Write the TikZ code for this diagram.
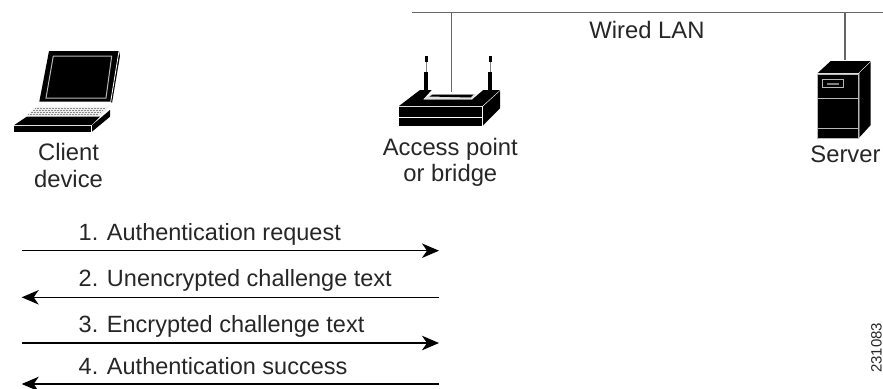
\documentclass[tikz,border=0pt]{standalone}
\usepackage{fontspec}
\setmainfont{Liberation Sans}
\usetikzlibrary{arrows.meta}
\definecolor{txt}{gray}{0.15}
\definecolor{wire}{gray}{0.4}
\definecolor{edge}{gray}{0.72}
\tikzset{
  lbl/.style={font=\fontsize{23.8}{30}\selectfont,text=txt,inner sep=0pt,anchor=base},
  msg/.style={font=\fontsize{23.5}{30}\selectfont,text=txt,inner sep=0pt,anchor=base west},
  flow/.style={draw=black,line width=1.2pt,-{Stealth[length=17pt,width=14.5pt,inset=5pt]}},
  lan/.style={draw=wire,line width=1.2pt},
  gap/.style={draw=edge,line width=1pt}
}
\begin{document}
\begin{tikzpicture}[x=1pt,y=-1pt]
\useasboundingbox (0,0) rectangle (883,388);
% LAN
\coordinate (lanL) at (412,12.7);
\coordinate (lanR) at (883,12.7);
\coordinate (lanA) at (451.3,12.7);
\coordinate (lanS) at (845,12.7);
\coordinate (apTop) at (451.3,91.7);
\coordinate (srvTop) at (845,60);
\draw[lan] (lanL) -- (lanR);
\draw[lan] (lanA) -- (apTop);
\draw[lan] (lanS) -- (srvTop);
\node[lbl] (wired) at (647,38) {Wired LAN};
% Laptop
\fill (49,51) -- (119,51) -- (110.7,101.7) -- (39.3,101.7) -- cycle;
\fill (119,51) -- (120,56) -- (112,103) -- (110.7,101.7) -- cycle;
\draw[gap] (53.3,56) -- (111.7,56) -- (106,98) -- (46,98) -- cycle;
\draw[white,line width=.8pt] (119,51) -- (110.7,101.7);
\fill[black!6] (36,106.7) -- (109.3,106.7) -- (100,116.7) -- (26,115.7) -- cycle;
\foreach \i in {0,...,3}
  \draw[black!45,line width=.5pt,densely dotted] ({35-\i*2.2},{108+\i*2.2}) -- ({105-\i*2.2},{108+\i*2.2});
\fill (26.7,116.7) -- (100,116.7) -- (91.7,125) -- (14.3,125) -- cycle;
\fill (14.3,125.8) -- (91.2,125.8) -- (91.2,132) -- (14.3,132) -- cycle;
\fill (92.2,125) -- (110,110) -- (110,116.7) -- (92.2,131.5) -- cycle;
% Access point
\fill (425,55.7) rectangle (427.5,62.3);
\fill[gray] (425.7,62.3) rectangle (426.7,71.7);
\fill (424.3,71.7) rectangle (428,89.5);
\fill (489,55.7) rectangle (491.5,62.3);
\fill[gray] (489.7,62.3) rectangle (490.7,71.7);
\fill (488.3,71.7) rectangle (492,89.5);
\fill (420,90) -- (431.7,90) -- (423.3,99.3) -- (472.3,99.3) -- (483.3,90) -- (500,90) -- (482.3,106) -- (399,106) -- cycle;
\fill[white!88!black] (423.3,99.3) -- (431,94) -- (475.7,94) -- (472.3,99.3) -- cycle;
\fill (429.5,96.5) -- (433,94.5) -- (473.5,94.5) -- (470.5,97.5) -- cycle;
\fill (399,106.6) rectangle (482,116.8);
\fill (399,117.8) rectangle (482,126);
\fill (483,106.5) -- (500,91) -- (500,108.3) -- (483,125.5) -- cycle;
% Server
\fill (817.7,73) -- (830.7,61) -- (870.7,61) -- (858.3,73) -- cycle;
\fill (817.7,74) rectangle (858.3,138.3);
\fill (859.3,73) -- (870.7,62) -- (870.7,125) -- (859.3,137.5) -- cycle;
\draw[gap] (817.7,74) -- (858.3,74) -- (858.3,138.3) -- (817.7,138.3) -- cycle;
\draw[gap] (817.7,98.3) -- (858.3,98.3);
\draw[gap] (817.7,128.3) -- (858.3,128.3);
\draw[draw=edge,line width=.9pt] (822.3,79) rectangle (843.3,87.7);
\fill[gray] (826.5,82.7) rectangle (839.3,84.5);
% Labels
\node[lbl] (client) at (68.5,160) {Client};
\node[lbl] (clientb) at (68.5,187.3) {device};
\node[lbl] (ap) at (450.3,155.7) {Access point};
\node[lbl] (apb) at (450.3,181.7) {or bridge};
\node[lbl] (server) at (845.5,162) {Server};
% Messages
\coordinate (l1) at (21.7,250.7); \coordinate (r1) at (439,250.7);
\coordinate (l2) at (21.7,297.3); \coordinate (r2) at (439,297.3);
\coordinate (l3) at (21.7,343);   \coordinate (r3) at (439,343);
\coordinate (l4) at (21.7,384);   \coordinate (r4) at (439,384);
\draw[flow] (l1) -- (r1);
\draw[flow] (r2) -- (l2);
\draw[flow] (l3) -- (r3);
\draw[flow] (r4) -- (l4);
\node[msg] (m1) at (78.5,240.7) {1. Authentication request};
\node[msg] (m2) at (78.5,286.7) {2. Unencrypted challenge text};
\node[msg] (m3) at (78.5,332.7) {3. Encrypted challenge text};
\node[msg] (m4) at (78.5,374) {4. Authentication success};
\node[font=\fontsize{15}{18}\selectfont,text=txt,inner sep=0pt,rotate=90,anchor=base west] (code) at (881.5,373) {231083};
\end{tikzpicture}
\end{document}
